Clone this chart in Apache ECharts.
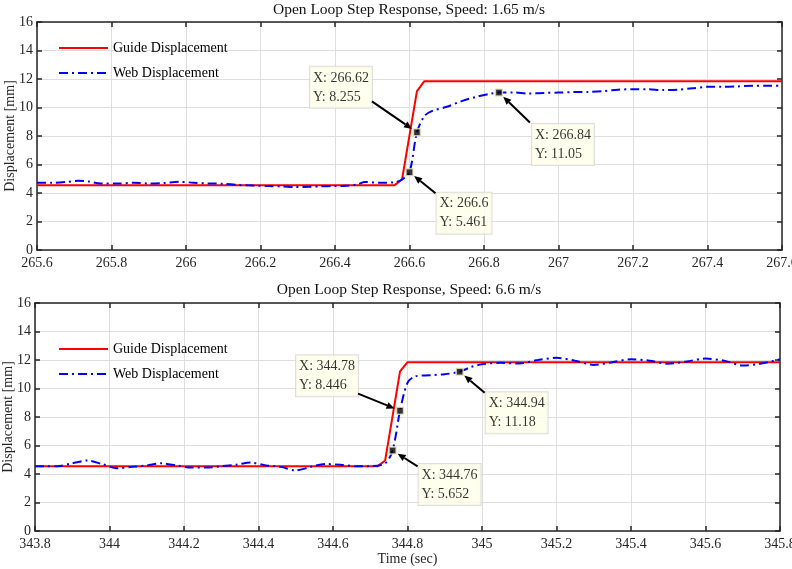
<!DOCTYPE html>
<html>
<head>
<meta charset="utf-8">
<script src="https://cdn.jsdelivr.net/npm/echarts@6/dist/echarts.min.js"></script>
<style>
  html, body { margin: 0; padding: 0; background: #fff; }
  #chart { width: 792px; height: 569px; }
</style>
</head>
<body>
<div id="chart"></div>
<script>
// 上图：1.65 m/s
const titles = ['Open Loop Step Response, Speed: 1.65 m/s', 'Open Loop Step Response, Speed: 6.6 m/s']
const xRanges = [[265.6, 267.6], [343.8, 345.8]]
const yTicks = [0, 2, 4, 6, 8, 10, 12, 14, 16]

const guideT1 = [265.6, 266.56, 266.58, 266.62, 266.64, 267.6]
const guideY1 = [4.55, 4.55, 4.95, 11.15, 11.85, 11.85]
const webT1 = [265.6, 265.64, 265.68, 265.71, 265.74, 265.77, 265.82, 265.86, 265.9, 265.94, 265.98, 266.02,
  266.06, 266.1, 266.14, 266.18, 266.22, 266.26, 266.29, 266.33, 266.36, 266.4, 266.43, 266.46, 266.48, 266.52,
  266.56, 266.58, 266.6, 266.62, 266.64, 266.66, 266.7, 266.74, 266.78, 266.82, 266.84, 266.88, 266.92, 266.96,
  267.0, 267.04, 267.08, 267.12, 267.16, 267.2, 267.24, 267.28, 267.32, 267.36, 267.4, 267.44, 267.48, 267.52,
  267.56, 267.6]
const webY1 = [4.72, 4.72, 4.78, 4.86, 4.8, 4.67, 4.66, 4.72, 4.67, 4.7, 4.79, 4.72,
  4.67, 4.65, 4.56, 4.52, 4.49, 4.46, 4.42, 4.43, 4.47, 4.49, 4.51, 4.6, 4.77, 4.72,
  4.75, 4.95, 5.461, 8.255, 9.4, 9.75, 10.05, 10.45, 10.75, 10.98, 11.05, 11.05, 10.98, 11.02,
  11.05, 11.08, 11.1, 11.15, 11.25, 11.28, 11.28, 11.22, 11.25, 11.35, 11.45, 11.45, 11.48, 11.52,
  11.52, 11.53]
const tipX1 = [266.62, 266.6, 266.84]
const tipY1 = [8.255, 5.461, 11.05]

// 下图：6.6 m/s
const guideT2 = [343.8, 344.72, 344.74, 344.78, 344.8, 345.8]
const guideY2 = [4.55, 4.55, 4.95, 11.2, 11.85, 11.85]
const webT2 = [343.8, 343.86, 343.9, 343.94, 343.98, 344.02, 344.06, 344.1, 344.14, 344.18, 344.22, 344.26,
  344.3, 344.34, 344.38, 344.42, 344.46, 344.5, 344.54, 344.58, 344.62, 344.66, 344.7, 344.74, 344.76, 344.78,
  344.8, 344.82, 344.86, 344.9, 344.94, 344.97, 345.0, 345.05, 345.1, 345.15, 345.2, 345.25, 345.3, 345.35,
  345.4, 345.45, 345.5, 345.55, 345.6, 345.65, 345.7, 345.75, 345.8]
const webY2 = [4.55, 4.55, 4.75, 4.95, 4.7, 4.4, 4.5, 4.6, 4.75, 4.6, 4.45, 4.45,
  4.55, 4.65, 4.8, 4.6, 4.5, 4.25, 4.5, 4.7, 4.65, 4.55, 4.55, 4.75, 5.652, 8.446,
  10.4, 10.85, 10.93, 11.0, 11.18, 11.5, 11.7, 11.8, 11.75, 12.0, 12.15, 11.95, 11.65, 11.85,
  12.05, 11.95, 11.74, 11.9, 12.1, 11.95, 11.62, 11.75, 12.05]
const tipX2 = [344.78, 344.76, 344.94]
const tipY2 = [8.446, 5.652, 11.18]

// 数据标签框相对点的偏移 [框左边dx, 框中心dy, 箭头起点dx, 箭头起点dy]
const tipLayout = [
  [[-107, -45, -45, -31], [27, 41, 26, 21], [33, 52, 31, 30]],
  [[-104, -35, -42, -17], [26, 34, 25, 16], [26, 41, 25, 21]]
]

const FONT = 'Liberation Serif'
const zip = (a, b) => a.map((v, i) => [v, b[i]])
const fmtX = v => String(+v.toFixed(1))

const grids = [
  { left: 37, right: 10, top: 22, height: 228, outerBoundsMode: 'none', containLabel: false },
  { left: 35, right: 12, top: 303, height: 228, outerBoundsMode: 'none', containLabel: false }
]

function xAxisPair (g) {
  const base = {
    type: 'value', gridIndex: g, min: xRanges[g][0], max: xRanges[g][1], interval: 0.2,
    axisLine: { show: true, onZero: false, lineStyle: { color: '#262626', width: 1.5 } },
    axisTick: { show: true, inside: true, length: 5, lineStyle: { color: '#262626', width: 1.5 } }
  }
  return [
    Object.assign({}, base, {
      position: 'bottom',
      axisLabel: { formatter: fmtX, color: '#262626', fontFamily: FONT, fontSize: 14, margin: 6 },
      splitLine: { show: true, lineStyle: { color: '#dedede', width: 1 } },
      name: g === 1 ? 'Time (sec)' : '',
      nameLocation: 'middle',
      nameGap: 21,
      nameMoveOverlap: false,
      nameTextStyle: { color: '#262626', fontFamily: FONT, fontSize: 14, verticalAlign: 'top' }
    }),
    Object.assign({}, base, { position: 'top', axisLabel: { show: false }, splitLine: { show: false } })
  ]
}

function yAxisPair (g) {
  const base = {
    type: 'value', gridIndex: g, min: yTicks[0], max: yTicks[yTicks.length - 1], interval: 2,
    axisLine: { show: true, onZero: false, lineStyle: { color: '#262626', width: 1.5 } },
    axisTick: { show: true, inside: true, length: 5, lineStyle: { color: '#262626', width: 1.5 } }
  }
  return [
    Object.assign({}, base, {
      position: 'left',
      axisLabel: { color: '#262626', fontFamily: FONT, fontSize: 14, margin: 4 },
      splitLine: { show: true, lineStyle: { color: '#dedede', width: 1 } },
      name: 'Displacement [mm]',
      nameLocation: 'middle',
      nameGap: 20,
      nameMoveOverlap: false,
      nameTextStyle: { color: '#262626', fontFamily: FONT, fontSize: 14 }
    }),
    Object.assign({}, base, { position: 'right', axisLabel: { show: false }, splitLine: { show: false } })
  ]
}

function tipSeries (g, xs, ys) {
  return {
    name: 'tips' + g,
    type: 'scatter',
    xAxisIndex: g * 2,
    yAxisIndex: g * 2,
    symbol: 'rect',
    symbolSize: 7,
    z: 5,
    itemStyle: { color: '#000', borderColor: '#ece6bf', borderWidth: 1.5 },
    label: {
      show: true,
      position: 'inside',
      align: 'left',
      verticalAlign: 'middle',
      formatter: p => 'X: ' + xs[p.dataIndex] + '\nY: ' + ys[p.dataIndex],
      color: '#000',
      fontFamily: FONT,
      fontSize: 14,
      lineHeight: 19,
      backgroundColor: '#ffffe8',
      borderColor: '#d6d6d6',
      borderWidth: 1,
      padding: [2, 3, 1, 3]
    },
    labelLayout: p => ({ dx: tipLayout[g][p.dataIndex][0], dy: tipLayout[g][p.dataIndex][1] }),
    emphasis: { disabled: true },
    data: zip(xs, ys)
  }
}

const chart = echarts.init(document.getElementById('chart'))
const legendNames = ['Guide Displacement', 'Web Displacement']

chart.setOption({
  animation: false,
  title: titles.map((t, i) => ({
    text: t, left: 409, top: i === 0 ? 2 : 282, textAlign: 'center', padding: 0,
    textStyle: { fontFamily: FONT, fontSize: 15.5, fontWeight: 'normal', color: '#111' }
  })),
  legend: [36, 337].map(top => ({
    data: legendNames, orient: 'vertical', left: 53, top: top,
    itemWidth: 49, itemHeight: 14, itemGap: 11, selectedMode: false,
    itemStyle: { opacity: 0 },
    textStyle: { fontFamily: FONT, fontSize: 14, color: '#000' }
  })),
  grid: grids,
  xAxis: xAxisPair(0).concat(xAxisPair(1)),
  yAxis: yAxisPair(0).concat(yAxisPair(1)),
  series: [
    { name: 'Guide Displacement', type: 'line', xAxisIndex: 0, yAxisIndex: 0, symbol: 'none',
      lineStyle: { color: '#ff0000', width: 2 }, itemStyle: { color: '#ff0000' }, data: zip(guideT1, guideY1) },
    { name: 'Web Displacement', type: 'line', xAxisIndex: 0, yAxisIndex: 0, symbol: 'none', smooth: 0.3,
      lineStyle: { color: '#0000ff', width: 2, type: [9, 4, 2, 4] }, itemStyle: { color: '#0000ff' }, data: zip(webT1, webY1) },
    { name: 'Guide Displacement', type: 'line', xAxisIndex: 2, yAxisIndex: 2, symbol: 'none',
      lineStyle: { color: '#ff0000', width: 2 }, itemStyle: { color: '#ff0000' }, data: zip(guideT2, guideY2) },
    { name: 'Web Displacement', type: 'line', xAxisIndex: 2, yAxisIndex: 2, symbol: 'none', smooth: 0.3,
      lineStyle: { color: '#0000ff', width: 2, type: [9, 4, 2, 4] }, itemStyle: { color: '#0000ff' }, data: zip(webT2, webY2) },
    tipSeries(0, tipX1, tipY1),
    tipSeries(1, tipX2, tipY2)
  ]
})

// 画箭头：从标签框指向数据点
function drawArrows () {
  const graphics = []
  const tips = [[tipX1, tipY1], [tipX2, tipY2]]
  tips.forEach((t, g) => {
    t[0].forEach((x, i) => {
      const p = chart.convertToPixel({ xAxisIndex: g * 2, yAxisIndex: g * 2 }, [x, t[1][i]])
      const lay = tipLayout[g][i]
      const sx = p[0] + lay[2]
      const sy = p[1] + lay[3]
      const len = Math.hypot(lay[2], lay[3])
      const ux = -lay[2] / len
      const uy = -lay[3] / len
      const ex = p[0] - ux * 6
      const ey = p[1] - uy * 6
      const head = 8
      const bx = ex - ux * head
      const by = ey - uy * head
      graphics.push({
        type: 'line', z: 10,
        shape: { x1: sx, y1: sy, x2: bx, y2: by },
        style: { stroke: '#000', lineWidth: 2 }
      })
      graphics.push({
        type: 'polygon', z: 10,
        shape: { points: [[ex, ey], [bx - uy * 3.5, by + ux * 3.5], [bx + uy * 3.5, by - ux * 3.5]] },
        style: { fill: '#000' }
      })
    })
  })
  chart.setOption({ graphic: graphics })
}
drawArrows()
</script>
</body>
</html>
